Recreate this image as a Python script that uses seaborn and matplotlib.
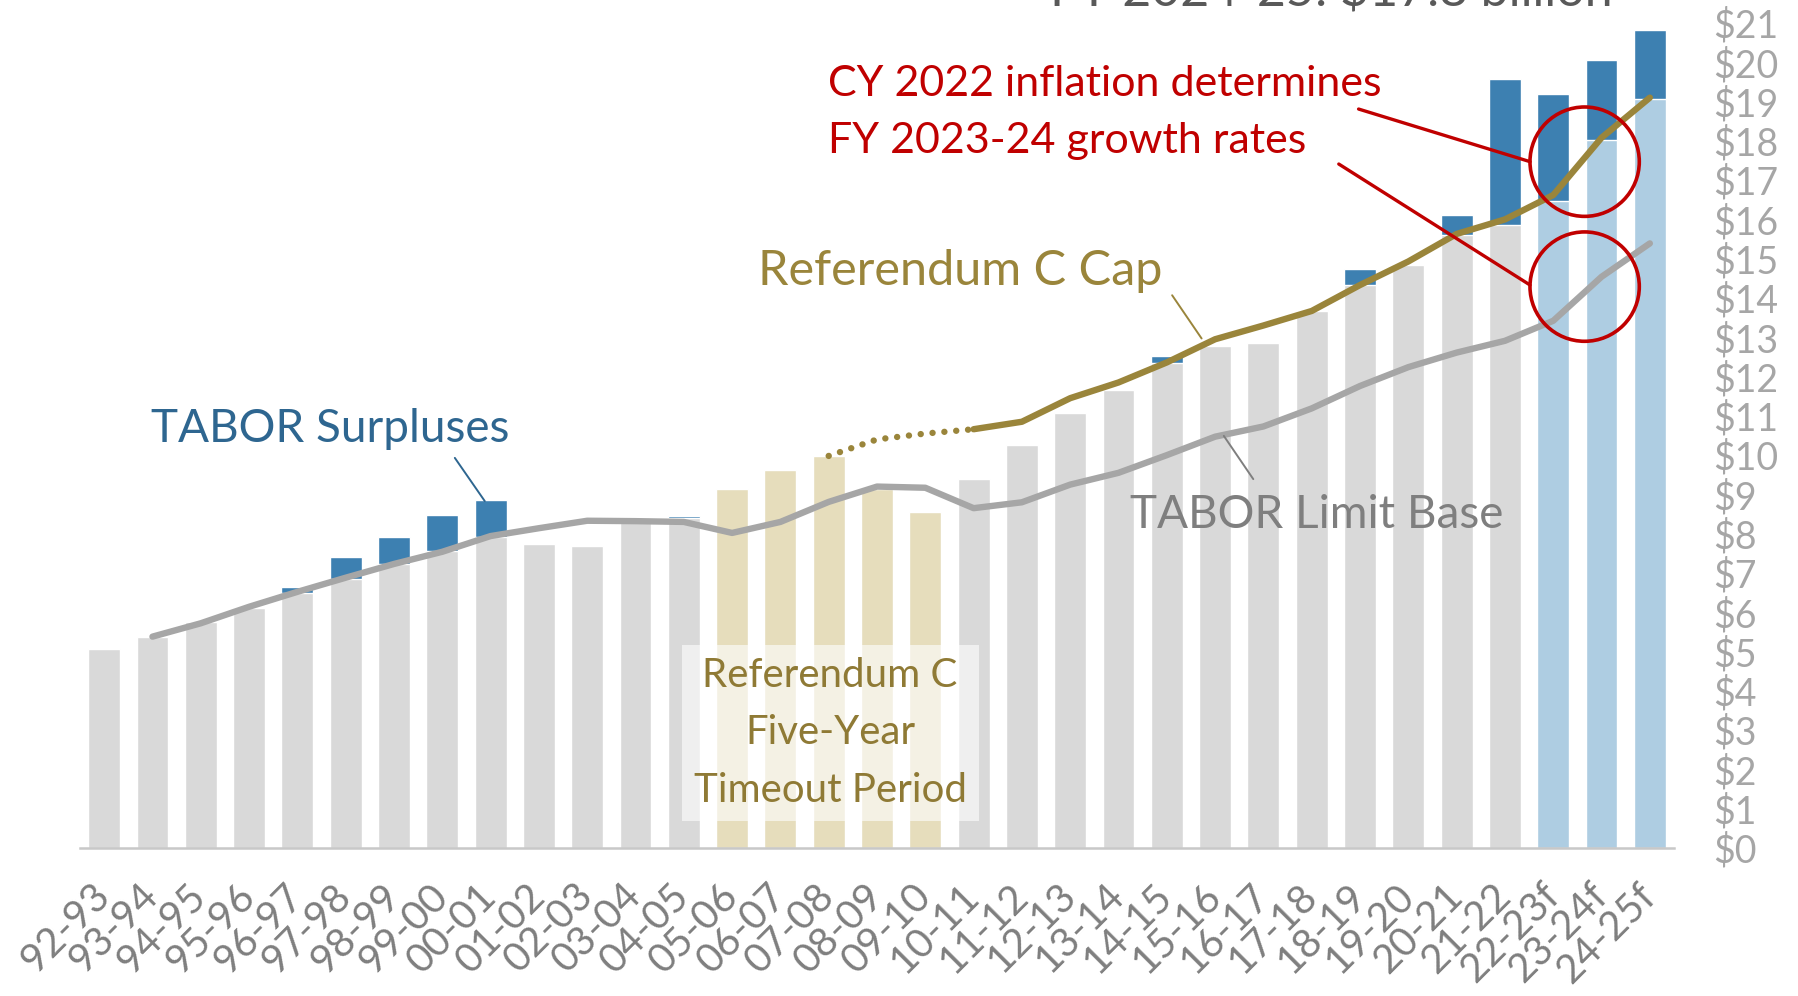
import numpy as np
import seaborn as sns
import matplotlib.pyplot as plt
from matplotlib.patches import Ellipse

# Fiscal years
years = ["92-93", "93-94", "94-95", "95-96", "96-97", "97-98", "98-99", "99-00",
         "00-01", "01-02", "02-03", "03-04", "04-05", "05-06", "06-07", "07-08",
         "08-09", "09-10", "10-11", "11-12", "12-13", "13-14", "14-15", "15-16",
         "16-17", "17-18", "18-19", "19-20", "20-21", "21-22", "22-23f", "23-24f",
         "24-25f"]

# Revenue subject to TABOR ($ billions), total bar height
revenue = [5.06, 5.37, 5.75, 6.12, 6.64, 7.41, 7.91, 8.48, 8.86, 7.73, 7.68,
           8.30, 8.45, 9.14, 9.62, 9.98, 9.15, 8.55, 9.40, 10.25, 11.08, 11.66,
           12.52, 12.79, 12.85, 13.70, 14.75, 14.84, 16.11, 19.57, 19.20, 20.05,
           20.81]

# TABOR surplus (top dark blue slice of each bar)
surplus = [0, 0, 0, 0, 0.14, 0.55, 0.68, 0.92, 0.94, 0, 0, 0, 0.05, 0, 0, 0,
           0, 0, 0, 0, 0, 0, 0.17, 0, 0, 0.03, 0.42, 0, 0.51, 3.71, 2.73, 2.02,
           1.74]

# TABOR limit base line (starts at 93-94)
limit_base = [5.38, 5.72, 6.14, 6.52, 6.88, 7.23, 7.54, 7.94, 8.14, 8.33, 8.32,
              8.30, 8.02, 8.30, 8.81, 9.20, 9.17, 8.65, 8.80, 9.25, 9.55, 10.00,
              10.47, 10.73, 11.19, 11.76, 12.24, 12.61, 12.91, 13.42, 14.54,
              15.39]

# Referendum C cap: dotted 07-08..10-11, solid 10-11..24-25f
cap_dotted = [9.98, 10.40, 10.55, 10.66]
cap_solid = [10.66, 10.85, 11.45, 11.85, 12.36, 12.95, 13.30, 13.67, 14.33,
             14.93, 15.63, 16.00, 16.62, 18.08, 19.10]

yticks = list(range(0, 22))

GRAY_BAR = "#D9D9D9"
TAN_BAR = "#E6DDBC"
LIGHT_BLUE = "#AECDE2"
DARK_BLUE = "#3D80B1"
GOLD = "#9A853B"
GRAY_LINE = "#A6A6A6"
RED = "#C00000"

n = len(years)
x = np.arange(n)
retained = [r - s for r, s in zip(revenue, surplus)]
base_colors = []
for i, yr in enumerate(years):
    if yr.endswith("f"):
        base_colors.append(LIGHT_BLUE)
    elif 13 <= i <= 17:
        base_colors.append(TAN_BAR)
    else:
        base_colors.append(GRAY_BAR)

sns.set_style("white")
plt.rcParams["font.family"] = ["Lato", "DejaVu Sans"]

fig = plt.figure(figsize=(17.98, 9.96), dpi=100)
ax = fig.add_axes([80 / 1798, 1 - 848 / 996, (1674 - 80) / 1798, 848 / 996])

# Stacked bars: total in dark blue, retained portion drawn on top
sns.barplot(x=years, y=revenue, color=DARK_BLUE, width=0.66, saturation=1,
            ax=ax, zorder=1)
sns.barplot(x=years, y=retained, hue=years, palette=base_colors, width=0.66,
            saturation=1, legend=False, ax=ax, zorder=2)

# Lines
ax.plot(x[1:], limit_base, color=GRAY_LINE, lw=4.6, solid_capstyle="round",
        solid_joinstyle="round", zorder=4)
ax.plot(x[15:19], cap_dotted, color=GOLD, lw=4.6, linestyle=(0, (0.01, 1.85)),
        dash_capstyle="round", zorder=4)
ax.plot(x[18:], cap_solid, color=GOLD, lw=4.6, solid_capstyle="round",
        solid_joinstyle="round", zorder=4)

ax.set_xlim(-0.5, n - 0.5)
ax.set_ylim(0, 848 / ((848 - 23) / 21))
ax.set_yticks(yticks)
ax.set_yticklabels([f"${t}" for t in yticks])
ax.yaxis.tick_right()
ax.tick_params(axis="y", length=0, pad=28, labelsize=27, labelcolor="#A6A6A6")
ax.set_xticks(x)
ax.set_xticklabels(years, rotation=45, ha="right", va="center",
                   rotation_mode="anchor")
ax.tick_params(axis="x", length=0, pad=30, labelsize=29, labelcolor="#7F7F7F")
ax.set_xlabel("")
ax.set_ylabel("")
for side in ["top", "left", "right"]:
    ax.spines[side].set_visible(False)
ax.spines["bottom"].set_color("#C8C8C8")
ax.spines["bottom"].set_linewidth(1.8)
ax.spines["bottom"].set_zorder(5)

# Timeout period label
ax.text(15.03, 2.93, "Referendum C\nFive-Year\nTimeout Period", ha="center",
        va="center", fontsize=29, color="#8F7A35", linespacing=1.68, zorder=6,
        bbox=dict(facecolor="white", edgecolor="none", alpha=0.6,
                  boxstyle="square,pad=0.3"))

# Series labels with leader lines
ax.text(0.96, 10.33, "TABOR Surpluses", fontsize=33, color="#2E6690",
        ha="left", va="baseline", zorder=6)
ax.plot([7.26, 7.88], [9.93, 8.83], color="#2E6690", lw=1.4, zorder=6)

ax.text(21.9, 14.33, "Referendum C Cap", fontsize=35, color=GOLD,
        ha="right", va="baseline", zorder=6)
ax.plot([22.11, 22.72], [14.07, 12.97], color=GOLD, lw=1.4, zorder=6)

ax.text(21.24, 8.14, "TABOR Limit Base", fontsize=33, color="#7F7F7F",
        ha="left", va="baseline", zorder=6)
ax.plot([23.18, 23.79], [10.49, 9.39], color="#7F7F7F", lw=1.4, zorder=6)

# Inflation callout
ax.text(14.99, 19.14, "CY 2022 inflation determines", fontsize=31, color=RED,
        ha="left", va="baseline", zorder=6)
ax.text(14.99, 17.70, "FY 2023-24 growth rates", fontsize=31, color=RED,
        ha="left", va="baseline", zorder=6)
ax.plot([25.97, 29.52], [18.81, 17.47], color=RED, lw=2.4, zorder=6)
ax.plot([25.56, 29.52], [17.41, 14.33], color=RED, lw=2.4, zorder=6)
for cy in [17.47, 14.29]:
    ax.add_patch(Ellipse((30.65, cy), 2.263, 2.784, fill=False, edgecolor=RED,
                         lw=2.6, zorder=7))

# Header text, partly cut off at the top edge
fig.text(0.7406, 1 - 6 / 996, "FY 2024-25: $17.8 billion", fontsize=36,
         color="#595959", ha="center", va="baseline")

fig.savefig("out.png", dpi=100)
